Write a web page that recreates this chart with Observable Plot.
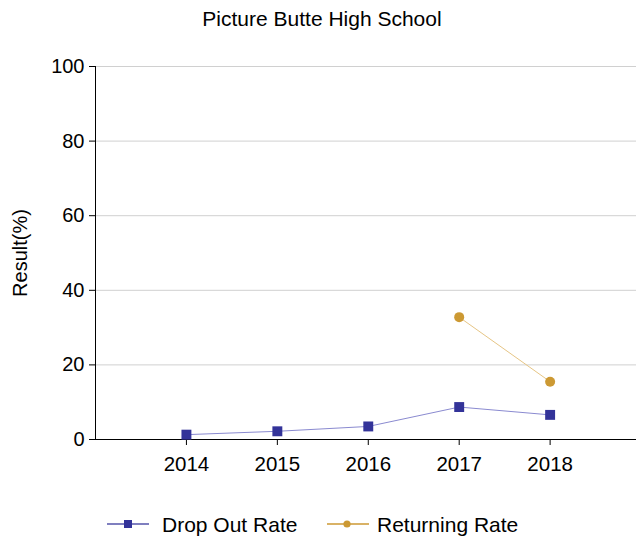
<!DOCTYPE html>
<html><head><meta charset="utf-8">
<script src="https://cdn.jsdelivr.net/npm/d3@7"></script>
<script src="https://cdn.jsdelivr.net/npm/@observablehq/plot@0.6"></script>
<style>
body{margin:0;background:#fff;font-family:"Liberation Sans",Arial,sans-serif;width:636px;}
#title{height:36px;line-height:38px;text-align:center;font-size:21px;color:#000;padding-left:8px;box-sizing:border-box;white-space:nowrap;}
#legend{height:41px;position:relative;}
#chart svg, #legend svg{display:block;}
</style>
</head><body>
<div id="title">Picture Butte High School</div>
<div id="chart"></div>
<div id="legend"></div>
<script>
const years = [2014, 2015, 2016, 2017, 2018];
const dropOut = [1.3, 2.2, 3.5, 8.7, 6.6];
const returningYears = [2017, 2018];
const returning = [32.8, 15.5];
const yTicks = [0, 20, 40, 60, 80, 100];
const seriesNames = ["Drop Out Rate", "Returning Rate"];
const markColors = ["#333399", "#cc9933"];
const lineColors = ["#8a8ad0", "#e6c585"];

const dropData = years.map((y, i) => ({year: y, value: dropOut[i]}));
const retData = returningYears.map((y, i) => ({year: y, value: returning[i]}));

const chart = Plot.plot({
  width: 636,
  height: 460,
  marginLeft: 95,
  marginRight: 0,
  marginTop: 30,
  marginBottom: 57,
  style: {fontFamily: "'Liberation Sans', Arial, sans-serif", fontSize: "20px", color: "#000", background: "#fff", overflow: "visible"},
  x: {domain: [2013, 2018.95]},
  y: {domain: [0, 100]},
  marks: [
    Plot.gridY(yTicks.slice(1), {stroke: "#d0d0d0", strokeOpacity: 1, strokeWidth: 1}),
    Plot.axisY(yTicks, {tickSize: 6, tickPadding: 5, fontSize: 20, label: "Result(%)", labelAnchor: "center", labelOffset: 83, labelArrow: "none"}),
    Plot.axisX(years, {tickSize: 6, tickPadding: 11, fontSize: 20.5, tickFormat: d => String(d), label: null}),
    Plot.ruleX([2013], {stroke: "#000", strokeWidth: 1}),
    Plot.ruleY([0], {stroke: "#000", strokeWidth: 1}),
    Plot.line(dropData, {x: "year", y: "value", stroke: lineColors[0], strokeWidth: 1}),
    Plot.dot(dropData, {x: "year", y: "value", symbol: "square", r: 5.6, fill: markColors[0], stroke: "none"}),
    Plot.line(retData, {x: "year", y: "value", stroke: lineColors[1], strokeWidth: 1}),
    Plot.dot(retData, {x: "year", y: "value", symbol: "circle", r: 5, fill: markColors[1], stroke: "none"})
  ]
});
document.getElementById("chart").appendChild(chart);

// legend
const ns = "http://www.w3.org/2000/svg";
const lg = document.createElementNS(ns, "svg");
lg.setAttribute("width", 636);
lg.setAttribute("height", 41);
const legendX = [107, 327];
seriesNames.forEach((name, i) => {
  const x0 = legendX[i], cy = 28;
  const ln = document.createElementNS(ns, "line");
  ln.setAttribute("x1", x0); ln.setAttribute("x2", x0 + 42);
  ln.setAttribute("y1", cy); ln.setAttribute("y2", cy);
  ln.setAttribute("stroke", i === 0 ? "#5555aa" : markColors[1]);
  ln.setAttribute("stroke-width", 1.3);
  lg.appendChild(ln);
  if (i === 0) {
    const r = document.createElementNS(ns, "rect");
    r.setAttribute("x", x0 + 17); r.setAttribute("y", cy - 4);
    r.setAttribute("width", 8); r.setAttribute("height", 8);
    r.setAttribute("fill", markColors[0]);
    lg.appendChild(r);
  } else {
    const c = document.createElementNS(ns, "circle");
    c.setAttribute("cx", x0 + 20); c.setAttribute("cy", cy); c.setAttribute("r", 3.6);
    c.setAttribute("fill", markColors[1]);
    lg.appendChild(c);
  }
  const t = document.createElementNS(ns, "text");
  t.setAttribute("x", i === 0 ? 162 : 377); t.setAttribute("y", cy + 8);
  t.setAttribute("font-size", 21);
  t.setAttribute("font-family", "'Liberation Sans', Arial, sans-serif");
  t.textContent = name;
  lg.appendChild(t);
});
document.getElementById("legend").appendChild(lg);
</script>
</body></html>
